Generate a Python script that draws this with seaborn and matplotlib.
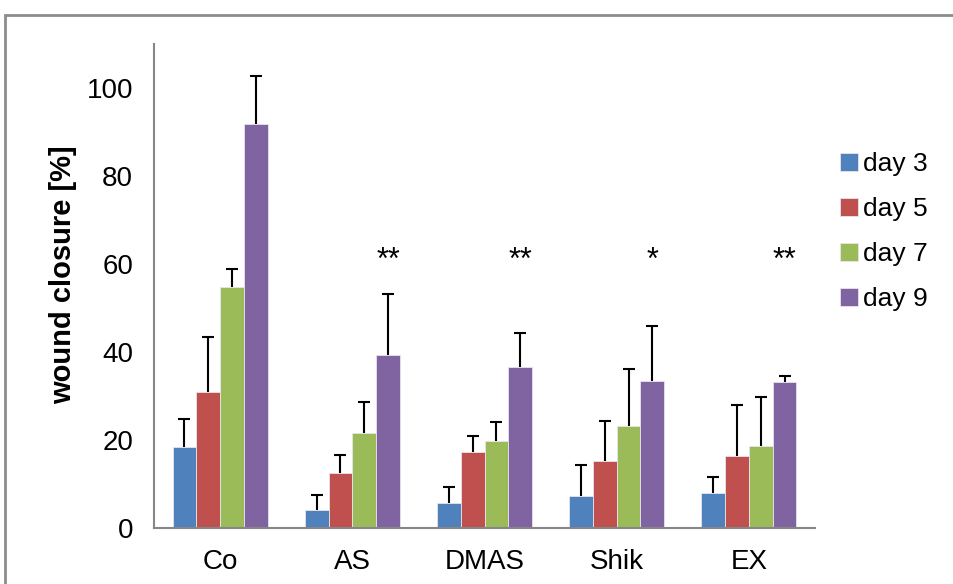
import numpy as np
import pandas as pd
import matplotlib
matplotlib.use("Agg")
import matplotlib.pyplot as plt
from matplotlib.patches import Rectangle
import seaborn as sns

groups = ["Co", "AS", "DMAS", "Shik", "EX"]
days = ["day 3", "day 5", "day 7", "day 9"]
day3 = [18.3, 4.2, 5.6, 7.3, 7.9]
day5 = [30.8, 12.6, 17.3, 15.3, 16.3]
day7 = [54.8, 21.5, 19.8, 23.2, 18.7]
day9 = [91.9, 39.4, 36.7, 33.3, 33.2]
err3 = [6.5, 3.4, 3.8, 7.0, 3.7]
err5 = [12.5, 3.9, 3.6, 9.1, 11.6]
err7 = [4.0, 7.2, 4.3, 12.9, 11.1]
err9 = [10.8, 13.7, 7.6, 12.6, 1.3]
stars = ["", "**", "**", "*", "**"]
yticks = [0, 20, 40, 60, 80, 100]
colors = ["#4F81BD", "#C0504D", "#9BBB59", "#8064A2"]

sns.set_theme(style="white")
plt.rcParams["font.family"] = ["Liberation Sans", "DejaVu Sans"]
plt.rcParams["text.color"] = "black"
plt.rcParams["axes.labelcolor"] = "black"
plt.rcParams["xtick.labelcolor"] = "black"
plt.rcParams["ytick.labelcolor"] = "black"

means = [day3, day5, day7, day9]
errs = [err3, err5, err7, err9]
rows = []
for d, vals, ev in zip(days, means, errs):
    for g, v, e in zip(groups, vals, ev):
        rows.append({"group": g, "day": d, "value": v, "err": e})
df = pd.DataFrame(rows)

fig = plt.figure(figsize=(9.54, 5.84), dpi=100)
ax = fig.add_axes([154 / 954, 1 - 528 / 584, (815 - 154) / 954, (528 - 44) / 584])

sns.barplot(data=df, x="group", y="value", hue="day", order=groups, hue_order=days,
            palette=colors, width=0.72, gap=0, errorbar=None, ax=ax,
            edgecolor="#e8e4ef", linewidth=0.6, saturation=1)

bar_containers = list(ax.containers)
# error bars (upward only) using bar geometry from the axes
for ci, container in enumerate(bar_containers):
    for bi, bar in enumerate(container):
        xc = bar.get_x() + bar.get_width() / 2
        h = bar.get_height()
        e = errs[ci][bi]
        eb = ax.errorbar([xc], [h], yerr=[[0], [e]], fmt="none", ecolor="black",
                         elinewidth=1.5, capsize=4.5, capthick=1.5, zorder=5)
        caps = eb[1]
        if len(caps) > 0:
            caps[0].set_visible(False)
        if ci == 3 and stars[bi]:
            ax.text(xc, 57.2, stars[bi], ha="center", va="bottom", fontsize=22, color="black")

ax.set_xlim(-0.5, 4.5)
ax.set_ylim(0, 110)
ax.set_yticks(yticks)
ax.set_yticklabels([str(t) for t in yticks], fontsize=20)
ax.set_xticks(range(len(groups)))
ax.set_xticklabels(groups, fontsize=20)
ax.set_xticks(np.arange(-0.5, 4.6, 1.0), minor=True)
ax.tick_params(axis="x", which="major", length=0, pad=15)
ax.tick_params(axis="x", which="minor", length=7, width=1.5, color="#868686", direction="out")
ax.tick_params(axis="y", length=7, width=1.5, color="#868686", direction="out", pad=8)
ax.set_xlabel("")
ax.set_ylabel("wound closure [%]", fontsize=21, fontweight="bold")
ax.yaxis.set_label_coords(-0.116, 0.523)

for side in ["top", "right"]:
    ax.spines[side].set_visible(False)
for side in ["left", "bottom"]:
    ax.spines[side].set_color("#868686")
    ax.spines[side].set_linewidth(1.5)

handles, labels = ax.get_legend_handles_labels()
leg = ax.legend(handles, labels, loc="upper left", bbox_to_anchor=(840 / 954, 1 - 152 / 584),
                bbox_transform=fig.transFigure, frameon=False, fontsize=19,
                handlelength=0.7, handleheight=0.7, handletextpad=0.18, labelspacing=0.8,
                borderaxespad=0, borderpad=0)

fig.patches.append(Rectangle((5 / 954, -0.2), 1.2, 1.2 - 15.5 / 584 + 0.0,
                             transform=fig.transFigure, fill=False,
                             edgecolor="#8c8c8c", linewidth=2, zorder=0))

fig.savefig("out.png", dpi=100)
